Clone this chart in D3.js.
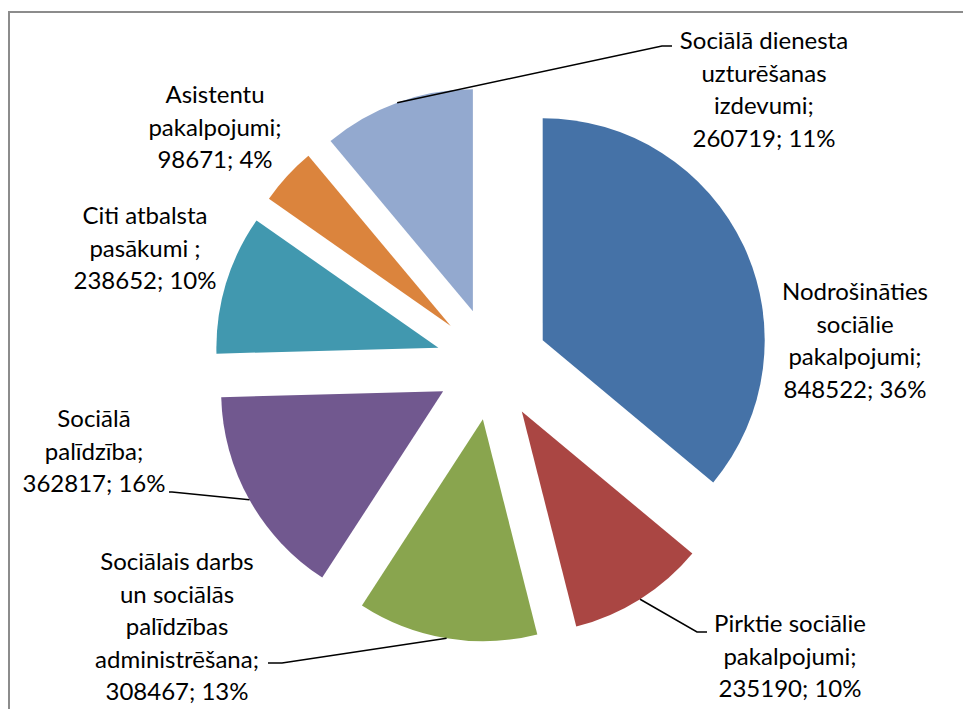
<!DOCTYPE html>
<html>
<head>
<meta charset="utf-8">
<script src="https://cdn.jsdelivr.net/npm/d3@7"></script>
<style>
  html, body { margin: 0; padding: 0; background: #fff; overflow: hidden; }
  svg text { font-family: Lato, "Open Sans", sans-serif; font-size: 24px; fill: #000; }
</style>
</head>
<body>
<svg id="chart" width="963" height="709"></svg>
<script>
// data, slices go clockwise from 12 o'clock
var categories = [
  ["Nodrošināties", "sociālie", "pakalpojumi;"],
  ["Pirktie sociālie", "pakalpojumi;"],
  ["Sociālais darbs", "un sociālās", "palīdzības", "administrēšana;"],
  ["Sociālā", "palīdzība;"],
  ["Citi atbalsta", "pasākumi ;"],
  ["Asistentu", "pakalpojumi;"],
  ["Sociālā dienesta", "uzturēšanas", "izdevumi;"]
];
var values = [848522, 235190, 308467, 362817, 238652, 98671, 260719];
var percents = ["36%", "10%", "13%", "16%", "10%", "4%", "11%"];
var colors = ["#4572a7", "#aa4643", "#89a54e", "#71588f", "#4198af", "#db843d", "#93a9cf"];

// layout (pixels)
var cx = 492, cy = 364, radius = 222, explode = 56, lineH = 32.6;
// label anchor (middle x, first baseline y) and leader elbow [x, y, endX] or null
var labelPos = [
  {x: 855, y: 300, leader: null},
  {x: 790, y: 632, leader: [697, 632, 707]},
  {x: 177, y: 570, leader: [282, 663, 268]},
  {x: 94,  y: 427, leader: [172, 492, 169]},
  {x: 145, y: 224, leader: null},
  {x: 215, y: 103, leader: null},
  {x: 764, y: 49,  leader: [662, 46, 672]}
];

var svg = d3.select("#chart");

// chart area frame (right and bottom edges fall outside the window)
svg.append("rect")
  .attr("x", 9).attr("y", 12)
  .attr("width", 1000).attr("height", 800)
  .attr("fill", "none")
  .attr("stroke", "#8c8c8c")
  .attr("stroke-width", 2);

var pie = d3.pie().sort(null).value(function(d){ return d; });
var arcs = pie(values);
var arc = d3.arc().innerRadius(0).outerRadius(radius);

function shift(d){
  var a = (d.startAngle + d.endAngle) / 2;
  return [cx + Math.sin(a) * explode, cy - Math.cos(a) * explode];
}

var g = svg.append("g");
g.selectAll("path.slice")
  .data(arcs)
  .enter().append("path")
  .attr("class", "slice")
  .attr("d", arc)
  .attr("fill", function(d, i){ return colors[i]; })
  .attr("transform", function(d){ var p = shift(d); return "translate(" + p[0] + "," + p[1] + ")"; });

// leader lines from the middle of the outer arc
arcs.forEach(function(d, i){
  var lp = labelPos[i];
  if(!lp.leader) return;
  var a = (d.startAngle + d.endAngle) / 2;
  var p = shift(d);
  var sx = p[0] + Math.sin(a) * radius, sy = p[1] - Math.cos(a) * radius;
  svg.append("polyline")
    .attr("points", [[sx, sy], [lp.leader[0], lp.leader[1]], [lp.leader[2], lp.leader[1]]].join(" "))
    .attr("fill", "none")
    .attr("stroke", "#000")
    .attr("stroke-width", 1.5);
});

// data labels
arcs.forEach(function(d, i){
  var lp = labelPos[i];
  var lines = categories[i].concat([values[i] + "; " + percents[i]]);
  var t = svg.append("text")
    .attr("text-anchor", "middle")
    .attr("x", lp.x).attr("y", lp.y);
  lines.forEach(function(s, k){
    t.append("tspan")
      .attr("x", lp.x)
      .attr("dy", k == 0 ? 0 : lineH)
      .text(s);
  });
});
</script>
</body>
</html>
